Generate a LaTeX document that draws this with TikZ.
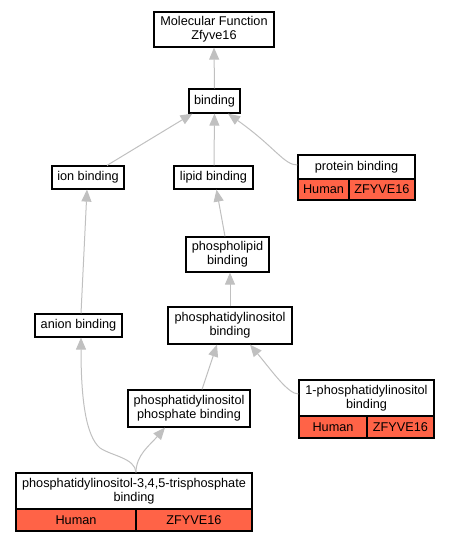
\documentclass[tikz,border=0pt]{standalone}
\usepackage{fontspec}
\setmainfont{Liberation Sans}
\usetikzlibrary{arrows.meta}
\definecolor{tomatored}{HTML}{FF6347}
\definecolor{edgegray}{HTML}{C0C0C0}
\tikzset{
  box/.style={draw=black, line width=1.2pt, fill=white, inner sep=0pt, align=center,
    font=\fontsize{12.7}{13.6}\selectfont},
  gene/.style={box, fill=tomatored},
  arr/.style={draw=edgegray, line width=1pt, -{Triangle[length=12pt,width=10pt]}, fill=none},
}
\begin{document}
\begin{tikzpicture}[x=1pt,y=-1pt]
\useasboundingbox (0,0) rectangle (448,541);
% nodes
\node[box, minimum width=120pt, minimum height=35pt] (mf) at (214,29.5) {Molecular Function\\Zfyve16};
\node[box, minimum width=51pt, minimum height=24pt] (bind) at (214.5,101) {binding};
\node[box, minimum width=72pt, minimum height=23pt] (ion) at (88,177.5) {ion binding};
\node[box, minimum width=79pt, minimum height=23pt] (lipid) at (213.5,177.5) {lipid binding};
\node[box, minimum width=117pt, minimum height=24pt] (pb) at (356.5,167) {protein binding};
\node[gene, minimum width=51pt, minimum height=21pt] (pbh) at (323.5,189.5) {Human};
\node[gene, minimum width=66pt, minimum height=21pt] (pbg) at (382,189.5) {ZFYVE16};
\node[box, minimum width=83pt, minimum height=35pt] (pl) at (227.5,254.5) {phospholipid\\binding};
\node[box, minimum width=87pt, minimum height=23pt] (anion) at (78.5,325.5) {anion binding};
\node[box, minimum width=124pt, minimum height=37pt] (pi) at (230,325.5) {phosphatidylinositol\\binding};
\node[box, minimum width=122pt, minimum height=37pt] (pip) at (189,408.5) {phosphatidylinositol\\phosphate binding};
\node[box, minimum width=135pt, minimum height=36pt] (pia) at (366.5,398) {1-phosphatidylinositol\\binding};
\node[gene, minimum width=68pt, minimum height=22pt] (piah) at (333,427) {Human};
\node[gene, minimum width=67pt, minimum height=22pt] (piag) at (400.5,427) {ZFYVE16};
\node[box, minimum width=236pt, minimum height=36pt] (pipt) at (134,491) {phosphatidylinositol-3,4,5-trisphosphate\\binding};
\node[gene, minimum width=120pt, minimum height=22pt] (pipth) at (76,520) {Human};
\node[gene, minimum width=116pt, minimum height=22pt] (piptg) at (194,520) {ZFYVE16};
% edges
\draw[arr] (bind.north) -- (mf.south);
\draw[arr] ([xshift=19pt]ion.north) -- ([xshift=-22pt]bind.south);
\draw[arr] ([xshift=0.5pt]lipid.north) -- (bind.south);
\draw[arr] ([yshift=2pt]pb.west) .. controls (284,165) and (275,147) .. ([xshift=13.5pt]bind.south);
\draw[arr] ([xshift=-2.5pt]pl.north) -- ([xshift=3pt]lipid.south);
\draw[arr] (pi.north) -- ([xshift=2.5pt]pl.south);
\draw[arr] ([xshift=2.5pt]anion.north) -- ([xshift=-1pt]ion.south);
\draw[arr] ([xshift=13pt]pip.north) -- ([xshift=-13pt]pi.south);
\draw[arr] ([yshift=4pt]pia.west) .. controls (288,394) and (272,371) .. ([xshift=20pt]pi.south);
\draw[arr] ([xshift=2pt]pipt.north) .. controls (136,455) and (150,445) .. ([xshift=-24pt]pip.south);
\draw[arr] ([xshift=2pt]pipt.north) .. controls (135,458) and (112,456) .. (100,448)
  .. controls (86,436) and (81,400) .. ([xshift=2.5pt]anion.south);
\end{tikzpicture}
\end{document}
